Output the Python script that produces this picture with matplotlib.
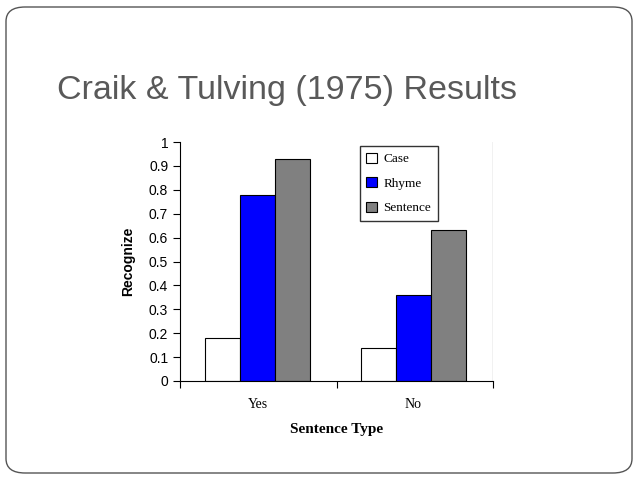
import matplotlib
matplotlib.use("Agg")
import matplotlib.pyplot as plt
from matplotlib.patches import FancyBboxPatch
import numpy as np

groups = ["Yes", "No"]
series = ["Case", "Rhyme", "Sentence"]
case = [0.18, 0.14]
rhyme = [0.78, 0.36]
sentence = [0.93, 0.63]
colors = ["white", "#0000ff", "#808080"]

fig = plt.figure(figsize=(6.38, 4.79), dpi=100)
fig.patch.set_facecolor("white")

# slide frame
frame = FancyBboxPatch((6 / 638, 6 / 479), 626 / 638, 466 / 479,
                       boxstyle="round,pad=0,rounding_size=0.03",
                       transform=fig.transFigure, fill=False,
                       edgecolor="#555555", linewidth=1.0)
fig.patches.append(frame)

fig.text(57 / 638, 1 - 91 / 479, "Craik & Tulving (1975) Results",
         fontsize=24.5, color="#595959", family="Liberation Sans", va="center")

ax = fig.add_axes([180 / 638, 1 - 381 / 479, 313 / 638, 239 / 479])
centers = np.array([0.495, 1.49])
w = 0.224
for i, (vals, name) in enumerate(zip([case, rhyme, sentence], series)):
    ax.bar(centers + (i - 1) * w, vals, w, color=colors[i], edgecolor="black",
           linewidth=0.8, label=name)

ax.set_xlim(0, 2)
ax.set_ylim(0, 1)
ax.set_yticks(np.arange(0, 1.01, 0.1))
ax.set_yticklabels(["0"] + ["%.1f" % v for v in np.arange(0.1, 1.0, 0.1)] + ["1"],
                   fontsize=10, family="Liberation Sans")
ax.set_xticks([0, 1, 2])
ax.set_xticklabels([])
ax.tick_params(axis="x", length=5, direction="out")
ax.tick_params(axis="y", length=5, direction="out")
ax.axvline(2, color="black", linewidth=0.8)
for c, g in zip(centers, groups):
    ax.text(c, -0.1, g, ha="center", va="center", fontsize=10, family="Liberation Serif",
            transform=ax.transData)
ax.spines["top"].set_visible(False)
ax.spines["right"].set_visible(False)
ax.set_xlabel("Sentence Type", fontsize=11, fontweight="bold", family="Liberation Serif",
              labelpad=22)
ax.set_ylabel("Recognize", fontsize=10, fontweight="bold", family="Liberation Sans",
              labelpad=10)
ax.legend(loc="upper left", bbox_to_anchor=(173 / 313, 1.01), frameon=True,
          fancybox=False, edgecolor="black", prop={"family": "Liberation Serif", "size": 9.5},
          handlelength=0.8, handleheight=0.8, labelspacing=0.9, borderpad=0.5,
          handletextpad=0.5)

fig.savefig("out.png", dpi=100)
